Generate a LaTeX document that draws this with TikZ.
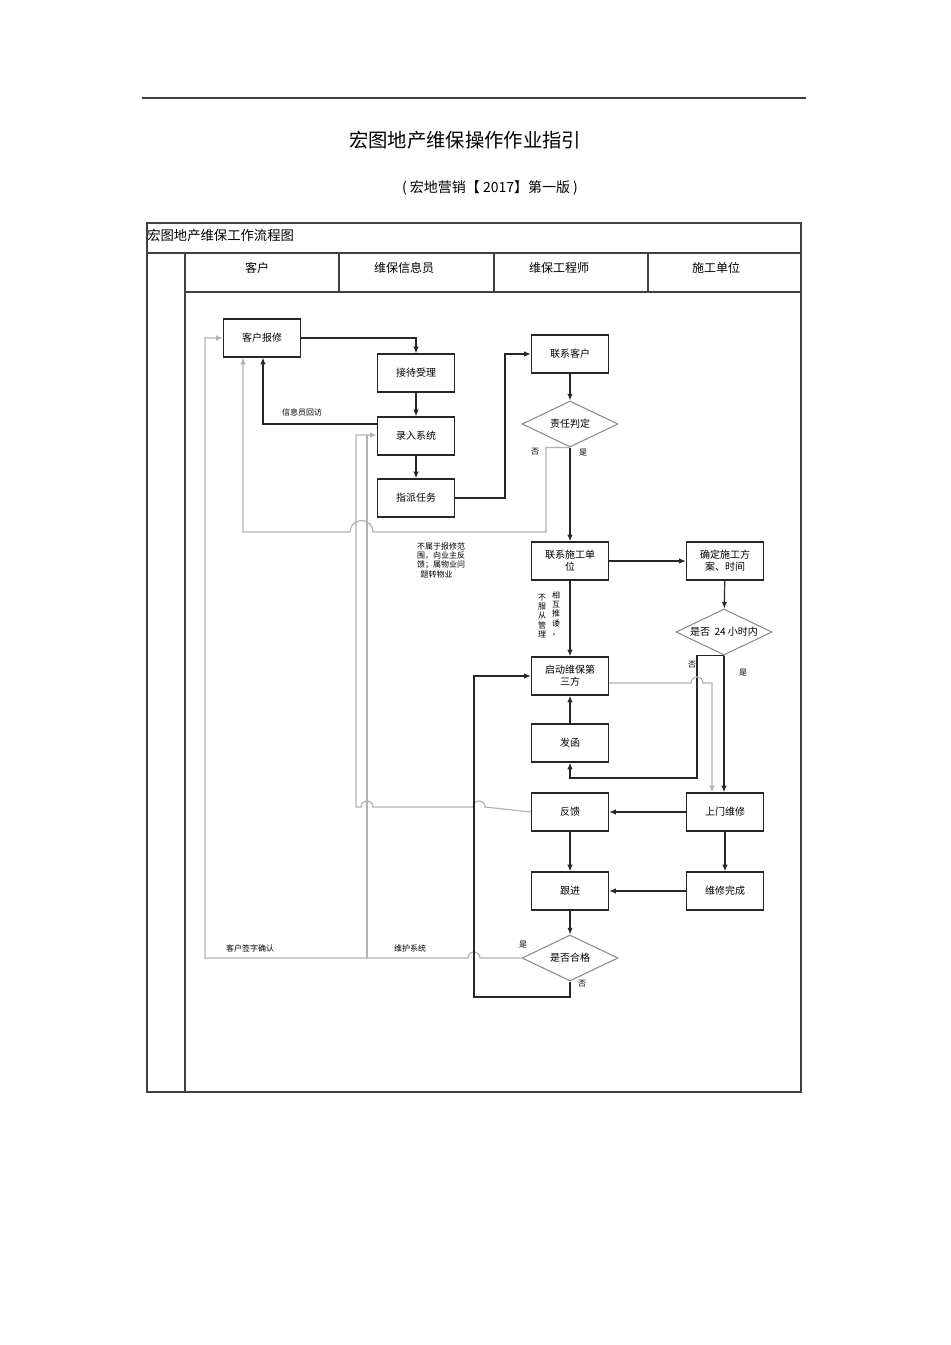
\documentclass[tikz,border=0pt]{standalone}
\usepackage{fontspec}
\setmainfont{Noto Sans CJK SC}
\usetikzlibrary{shapes.geometric,arrows.meta}
\begin{document}
\begin{tikzpicture}[x=0.75pt,y=-0.75pt,
  box/.style={draw=black!85,line width=0.9pt,minimum width=57.75pt,minimum height=28.5pt,inner sep=1pt,font=\fontsize{7.5}{9}\selectfont,align=center},
  dia/.style={draw=black!45,line width=0.8pt,diamond,aspect=2.1,inner sep=0pt,minimum width=72pt,minimum height=34.5pt,font=\fontsize{7.5}{9}\selectfont},
  ln/.style={draw=black!85,line width=0.9pt},
  gl/.style={draw=black!30,line width=0.9pt},
  arr/.style={-{Latex[length=5pt,width=4pt]}},
  sm/.style={font=\fontsize{6}{7}\selectfont,inner sep=0pt},
  frm/.style={draw=black!75,line width=0.8pt}]
\useasboundingbox (0,0) rectangle (950,1345);
\draw[frm] (142,98) -- (806,98);
\node[font=\fontsize{14.5}{16}\selectfont] (title) at (465,140) {宏图地产维保操作作业指引};
\node[font=\fontsize{10.5}{12}\selectfont] (sub) at (490,188) {( 宏地营销【 2017】第一版 )};
\draw[frm] (147,223) rectangle (801,1092);
\draw[frm] (147,253) -- (801,253);
\draw[frm] (185,253) -- (185,1092);
\draw[frm] (185,292) -- (801,292);
\foreach \x in {339,494,648} \draw[frm] (\x,253) -- (\x,292);
\node[anchor=west,inner sep=0pt,font=\fontsize{10}{12}\selectfont] (lt) at (147,235) {宏图地产维保工作流程图};
\node[font=\fontsize{9}{11}\selectfont] (h1) at (257,268) {客户};
\node[font=\fontsize{9}{11}\selectfont] (h2) at (404,268) {维保信息员};
\node[font=\fontsize{9}{11}\selectfont] (h3) at (559,268) {维保工程师};
\node[font=\fontsize{9}{11}\selectfont] (h4) at (716,268) {施工单位};

\node[box] (kh) at (262,338) {客户报修};
\node[box] (jd) at (416,373) {接待受理};
\node[box] (lr) at (416,436) {录入系统};
\node[box] (zp) at (416,498) {指派任务};
\node[box] (lk) at (570,354) {联系客户};
\node[dia] (zr) at (570,424) {责任判定};
\node[box] (lsg) at (570,561) {联系施工单\\位};
\node[box] (qd) at (725,561) {确定施工方\\案、时间};
\node[dia] (d24) at (724,632) {是否\ \ 24 小时内};
\node[box] (qdw) at (570,676) {启动维保第\\三方};
\node[box] (fh) at (570,743) {发函};
\node[box] (fk) at (570,812) {反馈};
\node[box] (sm) at (725,812) {上门维修};
\node[box] (gj) at (570,891) {跟进};
\node[box] (wx) at (725,891) {维修完成};
\node[dia] (hg) at (570,958) {是否合格};

\coordinate (c1) at (505,498);
\coordinate (c2) at (263,424);
\coordinate (c3) at (546,532);
\coordinate (c4) at (243,532);
\coordinate (c5) at (356,435);
\coordinate (c6) at (367,958);
\coordinate (c7) at (205,958);
\coordinate (c8) at (474,997);
\coordinate (c9) at (697,778);
\coordinate (c10) at (712,683);

\draw[ln,arr] (kh.east) -| (jd.north);
\draw[ln,arr] (jd) -- (lr);
\draw[ln,arr] (lr) -- (zp);
\draw[ln,arr] (zp.east) -- (c1) |- (lk.west);
\draw[ln,arr] (lk) -- (zr);
\draw[ln,arr] (zr.south) -- (lsg.north);
\draw[ln,arr] (lr.west |- c2) -- (c2) -- (kh.south -| c2);
\draw[gl,arr] (zr.south) -| (c3) -- (373,532) arc[start angle=0,end angle=-180,radius=11.5] -- (c4) -- (kh.south -| c4);
\draw[gl,arr] (fk.west) -- (485,807) arc[start angle=0,end angle=-180,radius=6] -- (373,807) arc[start angle=0,end angle=-180,radius=6] -| (c5) -- (lr.west |- c5);
\draw[gl,arr] (hg.west) -- (480,958) arc[start angle=0,end angle=-180,radius=6] -- (c7) |- (kh.west);
\draw[gl] (c6) -- (367,435);
\draw[ln,arr] (lsg) -- (qd);
\draw[ln,arr] (lsg) -- (qdw);
\draw[ln,arr] (qd) -- (d24);
\draw[ln,arr] (d24.south) -- (sm.north -| d24.south);
\draw[ln,arr] (d24.south) -| (c9) -| (fh.south);
\draw[gl,arr] (qdw.east |- c10) -- (691,683) arc[start angle=180,end angle=360,radius=6] -- (c10) -- (sm.north -| c10);
\draw[ln,arr] (fh) -- (qdw);
\draw[ln,arr] (sm) -- (fk);
\draw[ln,arr] (sm) -- (wx);
\draw[ln,arr] (wx) -- (gj);
\draw[ln,arr] (fk) -- (gj);
\draw[ln,arr] (gj) -- (hg);
\draw[ln,arr] (hg.south) |- (c8) |- (qdw.west);

\node[sm] (t1) at (302,412) {信息员回访};
\node[sm] (t2) at (535,452) {否};
\node[sm] (t3) at (583,453) {是};
\node[sm,align=left] (t4) at (441,560) {不属于报修范\\围，向业主反\\馈；属物业问\\\ \ 题转物业};
\node[sm,align=center] (t5) at (542,616) {不\\服\\从\\管\\理};
\node[sm,align=center] (t6) at (556,614) {相\\互\\推\\诿\\，};
\node[sm] (t7) at (692,665) {否};
\node[sm] (t8) at (743,673) {是};
\node[sm] (t9) at (523,945) {是};
\node[sm] (t10) at (582,984) {否};
\node[sm] (t11) at (250,948) {客户签字确认};
\node[sm] (t12) at (410,948) {维护系统};
\end{tikzpicture}
\end{document}
